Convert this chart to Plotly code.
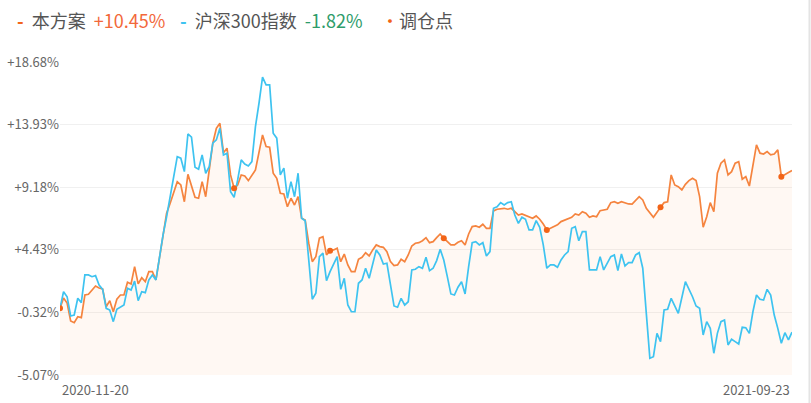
import plotly.graph_objects as go

# ---------------- data ----------------
x_labels = ["2020-11-20", "2021-09-23"]
first_day, last_day = 0, 206

strategy_day = [0, 1, 2, 3, 4, 5, 6, 7, 8, 10, 11, 12, 13, 14, 15, 16, 17, 18, 19, 20,
                21, 22, 23, 24, 25, 26, 27, 28, 29, 30, 31, 33, 34, 35, 36, 37, 38, 39, 40, 41,
                42, 43, 44, 45, 46, 47, 48, 49, 50, 51, 52, 53, 55, 56, 57, 58, 59, 60, 61, 62,
                63, 64, 65, 66, 67, 68, 69, 70, 71, 72, 73, 74, 75, 76, 77, 78, 79, 80, 81, 82,
                83, 84, 85, 86, 87, 88, 89, 90, 91, 92, 93, 94, 95, 96, 97, 98, 99, 100, 101, 102,
                103, 104, 105, 106, 107, 108, 109, 110, 111, 112, 113, 114, 115, 116, 117, 118, 119, 120, 121, 122,
                123, 125, 126, 127, 128, 129, 130, 132, 133, 134, 135, 136, 137, 138, 140, 141, 142, 144, 145, 146,
                147, 148, 149, 150, 151, 152, 154, 155, 156, 157, 158, 160, 161, 162, 163, 164, 165, 167, 168, 169,
                170, 171, 172, 173, 174, 175, 176, 177, 178, 179, 180, 181, 182, 183, 184, 185, 186, 187, 188, 189,
                190, 191, 192, 193, 194, 195, 196, 197, 198, 199, 200, 201, 202, 203, 204, 205, 206]
strategy_ret = [0.00, 0.77, 0.39, -0.97, -1.10, -0.65, -0.72, 1.00, 1.05, 1.68, 1.53, 1.46, 0.11, 0.57, -0.27, 0.68, 1.00, 1.00, 1.97, 1.84,
                3.15, 1.84, 2.31, 2.01, 2.77, 2.77, 2.14, 3.91, 5.56, 7.20, 7.96, 9.60, 9.35, 8.08, 10.16, 9.35, 8.42, 8.34, 9.60, 8.46,
                10.49, 12.52, 13.65, 14.03, 11.80, 12.14, 10.11, 9.10, 9.35, 10.11, 10.03, 9.68, 10.49, 11.88, 13.15, 12.26, 12.21, 10.24, 9.86, 8.72,
                8.67, 7.70, 8.34, 7.83, 8.46, 6.82, 6.69, 4.93, 3.53, 3.91, 5.31, 5.43, 4.04, 4.36, 4.42, 4.55, 3.53, 4.11, 3.28, 2.77,
                2.77, 3.71, 3.86, 4.21, 3.96, 4.42, 4.80, 4.67, 4.62, 4.29, 3.53, 3.23, 3.28, 3.71, 3.53, 4.04, 4.72, 4.93, 4.97, 5.12,
                5.35, 4.97, 5.05, 5.35, 5.63, 5.31, 5.05, 4.80, 4.80, 5.00, 5.12, 4.80, 5.63, 6.19, 6.24, 6.14, 6.37, 6.06, 6.06, 7.38,
                7.51, 7.58, 7.51, 7.58, 7.32, 7.07, 7.15, 6.90, 6.82, 7.00, 6.75, 6.39, 5.94, 6.06, 6.32, 6.57, 6.69, 6.90, 7.15, 7.07,
                7.32, 7.20, 6.90, 7.00, 6.94, 7.40, 7.51, 8.01, 8.08, 7.96, 8.08, 7.91, 7.89, 8.21, 8.46, 8.21, 7.58, 6.90, 7.32, 7.66,
                8.01, 8.08, 10.11, 9.35, 9.22, 8.97, 9.40, 9.68, 9.86, 9.68, 8.46, 6.14, 6.94, 8.01, 7.32, 10.24, 11.00, 11.25, 10.11, 10.36,
                11.00, 11.12, 9.78, 9.98, 9.27, 11.00, 12.39, 11.76, 11.70, 11.88, 11.63, 11.70, 12.01, 9.98, 10.11, 10.30, 10.45]

index_day = [0, 1, 2, 3, 4, 5, 6, 7, 8, 9, 10, 11, 12, 13, 14, 15, 16, 17, 18, 19,
             20, 21, 22, 23, 24, 25, 26, 27, 28, 29, 30, 31, 32, 33, 34, 35, 36, 37, 38, 39,
             40, 41, 42, 43, 44, 45, 46, 47, 48, 49, 50, 51, 52, 53, 54, 55, 56, 57, 58, 59,
             60, 61, 62, 63, 64, 65, 66, 67, 68, 69, 70, 71, 72, 73, 74, 75, 76, 78, 79, 80,
             81, 82, 83, 84, 85, 86, 87, 88, 89, 90, 91, 92, 93, 94, 95, 96, 97, 98, 99, 100,
             101, 102, 103, 104, 105, 106, 107, 108, 109, 110, 111, 112, 113, 114, 115, 116, 117, 118, 119, 120,
             121, 122, 123, 124, 125, 126, 127, 128, 129, 130, 131, 132, 133, 134, 135, 136, 137, 138, 139, 140,
             141, 142, 143, 144, 145, 146, 147, 148, 149, 150, 151, 152, 153, 155, 156, 157, 158, 159, 160, 161,
             162, 163, 164, 165, 166, 167, 168, 169, 170, 171, 172, 174, 176, 178, 179, 180, 181, 182, 183, 184,
             185, 186, 187, 188, 189, 190, 191, 192, 193, 194, 195, 196, 197, 198, 199, 200, 201, 202, 203, 204,
             205, 206]
index_ret = [0.00, 1.25, 0.87, -0.59, -0.52, 0.75, 0.42, 2.52, 2.52, 2.39, 2.47, 1.76, 1.43, -0.01, -0.14, -1.02, -0.08, 0.11, 0.24, 1.51,
             1.38, 2.06, 0.57, 1.25, 1.18, 2.14, 2.52, 2.14, 3.91, 5.56, 6.94, 8.46, 9.73, 11.50, 11.38, 10.36, 13.22, 12.97, 10.69, 10.54,
             11.63, 10.24, 10.74, 12.52, 12.77, 13.65, 11.63, 11.76, 8.84, 8.42, 9.73, 11.25, 10.94, 10.79, 11.12, 13.78, 15.55, 17.53, 16.94, 16.94,
             13.27, 12.90, 10.11, 10.62, 8.34, 9.60, 8.46, 10.24, 6.82, 6.64, 3.66, 0.68, 1.13, 3.91, 4.17, 2.09, 2.77, 3.91, 1.43, 2.27,
             0.24, -0.27, -0.27, 1.89, 2.14, 3.03, 2.27, 3.41, 4.42, 4.04, 3.35, 3.41, 1.63, 0.17, 0.07, 0.75, 0.24, 0.49, 2.90, 2.95,
             3.15, 3.03, 3.86, 2.85, 3.03, 3.61, 4.47, 3.66, 2.39, 1.08, 1.00, 1.59, 2.01, 1.08, 3.15, 4.97, 5.05, 4.80, 4.97, 3.96,
             4.29, 7.58, 7.70, 8.01, 7.83, 8.01, 8.08, 7.07, 6.44, 6.90, 6.75, 5.94, 5.94, 6.64, 6.14, 4.80, 3.03, 3.28, 3.28, 3.10,
             3.66, 4.04, 4.29, 6.06, 6.19, 5.12, 5.81, 5.81, 2.90, 2.90, 2.90, 3.91, 2.90, 3.91, 4.04, 2.85, 4.11, 3.20, 3.45, 3.45,
             4.04, 4.21, 3.03, -0.39, -3.80, -3.68, -1.91, -2.54, -0.14, -0.08, 0.75, -0.39, 2.01, 0.87, 0.17, -0.01, -2.03, -1.02, -1.53, -3.42,
             -1.91, -1.02, -0.90, -2.79, -2.36, -2.54, -2.72, -1.45, -1.48, -1.91, -0.27, 1.00, 0.68, 0.62, 1.43, 1.00, -0.52, -1.53, -2.66, -1.86,
             -2.41, -1.82]

rebalance_day = [0, 49, 76, 108, 137, 169, 203]

ytick_vals = [-5.07, -0.32, 4.43, 9.18, 13.93, 18.68]
ytick_text = ["-5.07%", "-0.32%", "+4.43%", "+9.18%", "+13.93%", "+18.68%"]

series_names = ["本方案", "沪深300指数", "调仓点"]
final_returns = ["+10.45%", "-1.82%"]

# ---------------- styling ----------------
ORANGE = "#F5843F"
ORANGE_DOT = "#F26418"
BLUE = "#3EC3F0"
RED_TXT = "#F2683A"
GREEN_TXT = "#2E9C6A"
GRAY_TXT = "#555555"
FONT = "Noto Sans CJK SC"

W, H = 811, 403
ML, MR, MT, MB = 60, 19, 62, 28
PW, PH = W - ML - MR, H - MT - MB


def px_x(px):
    return (px - ML) / PW


def px_y(py):
    return (H - MB - py) / PH


ret_lookup = dict(zip(strategy_day, strategy_ret))
rebalance_ret = [ret_lookup[d] for d in rebalance_day]

fig = go.Figure()

# baseline for the fill down to the bottom of the axis
fig.add_trace(go.Scatter(x=[first_day, last_day], y=[ytick_vals[0], ytick_vals[0]],
                         mode="lines", line=dict(width=0, color="rgba(0,0,0,0)"),
                         hoverinfo="skip", showlegend=False))
fig.add_trace(go.Scatter(x=strategy_day, y=strategy_ret, mode="lines", name=series_names[0],
                         line=dict(color=ORANGE, width=1.7), fill="tonexty",
                         fillcolor="rgba(250,150,90,0.07)", showlegend=False))
fig.add_trace(go.Scatter(x=index_day, y=index_ret, mode="lines", name=series_names[1],
                         line=dict(color=BLUE, width=1.7), showlegend=False))
fig.add_trace(go.Scatter(x=rebalance_day, y=rebalance_ret, mode="markers", name=series_names[2],
                         marker=dict(color=ORANGE_DOT, size=6), showlegend=False))

# legend row (text)
SP = "&nbsp;&nbsp;"
legend_items = [
    (15, f'<span style="color:{ORANGE_DOT}"><b>-</b></span>{SP}{series_names[0]}{SP}'
         f'<span style="color:{RED_TXT}">{final_returns[0]}</span>'),
    (178, f'<span style="color:{BLUE}"><b>-</b></span>{SP}{series_names[1]}{SP}'
          f'<span style="color:{GREEN_TXT}">{final_returns[1]}</span>'),
    (379, f'<span style="color:{ORANGE_DOT}">•</span>{series_names[2]}'),
]
for px, txt in legend_items:
    fig.add_annotation(x=px_x(px), y=px_y(20), xref="paper", yref="paper",
                       xanchor="left", yanchor="middle", showarrow=False, text=txt,
                       font=dict(family=FONT, size=18, color=GRAY_TXT))

# x labels (first / last date)
fig.add_annotation(x=first_day, y=0, xref="x", yref="paper", xanchor="left", yanchor="top",
                   yshift=-3, showarrow=False, text=x_labels[0],
                   font=dict(family=FONT, size=13, color="#666666"))
fig.add_annotation(x=last_day, y=0, xref="x", yref="paper", xanchor="right", yanchor="top",
                   yshift=-3, showarrow=False, text=x_labels[1],
                   font=dict(family=FONT, size=13, color="#666666"))

# right page edge line
fig.add_shape(type="line", xref="paper", yref="paper", x0=px_x(809.5), x1=px_x(809.5),
              y0=px_y(H), y1=px_y(0), line=dict(color="#E4E4E4", width=2))

fig.update_layout(
    width=W, height=H,
    margin=dict(l=ML, r=MR, t=MT, b=MB, autoexpand=False),
    paper_bgcolor="white", plot_bgcolor="white",
    font=dict(family=FONT, color="#666666"),
    showlegend=False,
    xaxis=dict(range=[first_day, last_day], showgrid=False, zeroline=False,
               showticklabels=False, ticks="", showline=False, fixedrange=True,
               automargin=False),
    yaxis=dict(range=[ytick_vals[0], ytick_vals[-1]], tickvals=ytick_vals, ticktext=ytick_text,
               showgrid=True, gridcolor="#F0F0F0", gridwidth=1, zeroline=False, showline=False,
               ticks="", tickfont=dict(family=FONT, size=13, color="#666666"), fixedrange=True,
               automargin=False),
)

fig.write_html("out.html", config={"displayModeBar": False},
               post_script="document.body.style.margin='0';document.body.style.overflow='hidden';")
